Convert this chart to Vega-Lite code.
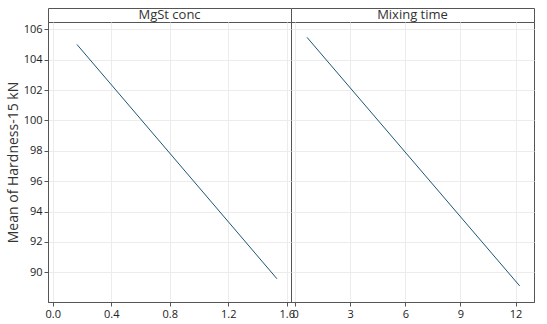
{
  "$schema": "https://vega.github.io/schema/vega-lite/v6.json",
  "padding": {"left": 5, "top": 7, "right": 10, "bottom": 5},
  "background": "white",
  "datasets": {
    "hardness": [
      {"factor": "MgSt conc", "level": 0.166, "mean": 105.0},
      {"factor": "MgSt conc", "level": 1.533, "mean": 89.57},
      {"factor": "Mixing time", "level": 0.65, "mean": 105.47},
      {"factor": "Mixing time", "level": 12.22, "mean": 89.1}
    ],
    "panels": [
      {"factor": "MgSt conc"},
      {"factor": "Mixing time"}
    ]
  },
  "spacing": 0,
  "bounds": "flush",
  "columns": 2,
  "concat": [
    {
      "width": 243, "height": 14,
      "view": {"stroke": "#555", "strokeWidth": 1, "fill": "white"},
      "data": {"name": "panels"},
      "transform": [{"filter": "datum.factor === 'MgSt conc'"}],
      "mark": {"type": "text", "fontSize": 13, "color": "#333", "font": "Open Sans", "baseline": "middle"},
      "encoding": {"text": {"field": "factor"}}
    },
    {
      "width": 243, "height": 14,
      "view": {"stroke": "#555", "strokeWidth": 1, "fill": "white"},
      "data": {"name": "panels"},
      "transform": [{"filter": "datum.factor === 'Mixing time'"}],
      "mark": {"type": "text", "fontSize": 13, "color": "#333", "font": "Open Sans", "baseline": "middle"},
      "encoding": {"text": {"field": "factor"}}
    },
    {
      "width": 243, "height": 280,
      "data": {"name": "hardness"},
      "transform": [{"filter": "datum.factor === 'MgSt conc'"}],
      "mark": {"type": "line", "color": "#1d5675", "strokeWidth": 1},
      "encoding": {
        "x": {"field": "level", "type": "quantitative", "scale": {"domain": [-0.032, 1.629], "nice": false, "zero": false},
              "axis": {"values": [0, 0.4, 0.8, 1.2, 1.6], "format": ".1f", "title": null}},
        "y": {"field": "mean", "type": "quantitative", "scale": {"domain": [88.04, 106.48], "nice": false, "zero": false},
              "axis": {"values": [90, 92, 94, 96, 98, 100, 102, 104, 106], "title": "Mean of Hardness-15 kN"}}
      }
    },
    {
      "width": 243, "height": 280,
      "data": {"name": "hardness"},
      "transform": [{"filter": "datum.factor === 'Mixing time'"}],
      "mark": {"type": "line", "color": "#1d5675", "strokeWidth": 1},
      "encoding": {
        "x": {"field": "level", "type": "quantitative", "scale": {"domain": [-0.22, 13.0], "nice": false, "zero": false},
              "axis": {"values": [0, 3, 6, 9, 12], "title": null}},
        "y": {"field": "mean", "type": "quantitative", "scale": {"domain": [88.04, 106.48], "nice": false, "zero": false},
              "axis": {"values": [90, 92, 94, 96, 98, 100, 102, 104, 106], "title": null, "labels": false, "ticks": false, "domain": false}}
      }
    }
  ],
  "config": {
    "font": "Open Sans",
    "view": {"stroke": "#555", "strokeWidth": 1},
    "axis": {
      "labelFontSize": 11, "labelColor": "#222", "labelFont": "Open Sans",
      "titleFontSize": 14, "titleColor": "#333", "titleFontWeight": "normal", "titleFont": "Open Sans",
      "domainColor": "#555", "tickColor": "#555", "tickSize": 4, "labelPadding": 2,
      "grid": true, "gridColor": "#ececec", "gridWidth": 1
    },
    "axisY": {"titlePadding": 3}
  }
}
